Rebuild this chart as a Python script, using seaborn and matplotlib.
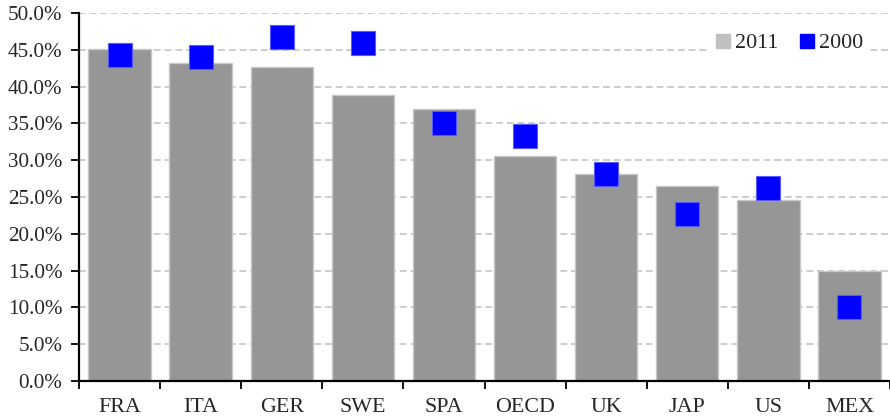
import matplotlib
matplotlib.use("Agg")
import matplotlib.pyplot as plt
from matplotlib.lines import Line2D
from matplotlib.ticker import FuncFormatter, FixedLocator
import seaborn as sns
import pandas as pd
import numpy as np

countries = ["FRA", "ITA", "GER", "SWE", "SPA", "OECD", "UK", "JAP", "US", "MEX"]
values_2011 = [45.1, 43.2, 42.6, 38.85, 37.0, 30.55, 28.1, 26.5, 24.6, 15.0]
values_2000 = [44.3, 44.0, 46.7, 45.9, 35.1, 33.3, 28.1, 22.75, 26.2, 10.1]
y_ticks = [0, 5, 10, 15, 20, 25, 30, 35, 40, 45, 50]

df = pd.DataFrame({"country": countries, "v2011": values_2011, "v2000": values_2000})

sns.set_style("white")
plt.rcParams["font.family"] = ["Liberation Serif", "DejaVu Serif"]

fig = plt.figure(figsize=(8.9, 4.2), dpi=100)
ax = fig.add_axes([79 / 890, 1 - 381 / 420, 1 - 79 / 890, (381 - 13) / 420])

sns.barplot(data=df, x="country", y="v2011", color="#969696", width=0.77,
            edgecolor="#c8c8c8", linewidth=1.0, saturation=1, ax=ax, zorder=2)
sns.pointplot(data=df, x="country", y="v2000", color="blue", markers="s",
              linestyles="none", errorbar=None, markersize=17.5,
              markeredgecolor="#5a5aff", markeredgewidth=0.8, ax=ax, zorder=3)

ax.set_xlim(-0.5, len(countries) - 0.5)
ax.set_ylim(0, 50)
ax.yaxis.set_major_locator(FixedLocator(y_ticks))
ax.yaxis.set_major_formatter(FuncFormatter(lambda v, p: f"{v:.1f}%"))
ax.set_xlabel("")
ax.set_ylabel("")

ax.grid(axis="y", color="#c0c0c0", linestyle=(0, (4.5, 2.5)), linewidth=1.1, zorder=0)
ax.set_axisbelow(True)

for s in ["top", "right"]:
    ax.spines[s].set_visible(False)
for s in ["left", "bottom"]:
    ax.spines[s].set_color("black")
    ax.spines[s].set_linewidth(1.6)
    ax.spines[s].set_zorder(4)

ax.tick_params(axis="y", which="major", direction="out", length=6, width=1.3,
               color="black", labelsize=15.2, pad=6, left=True)
ax.tick_params(axis="x", which="major", length=0, labelsize=15.8, pad=12)
ax.set_xticks(np.arange(-0.5, len(countries) - 0.4, 1.0), minor=True)
ax.tick_params(axis="x", which="minor", direction="out", length=6, width=1.3,
               color="black", bottom=True)

handles = [
    Line2D([], [], marker="s", color="#c0c0c0", linestyle="none", markersize=9.5),
    Line2D([], [], marker="s", color="blue", linestyle="none", markersize=9.5),
]
leg = ax.legend(handles, ["2011", "2000"], ncol=2, loc="upper right",
                bbox_to_anchor=(0.972, 0.958), frameon=True, fontsize=15.8,
                handlelength=0.8, handletextpad=0.15, columnspacing=0.9,
                borderpad=0.2, borderaxespad=0)
leg.get_frame().set_facecolor("white")
leg.get_frame().set_edgecolor("none")
leg.get_frame().set_alpha(1)

fig.savefig("out.png", dpi=100)
